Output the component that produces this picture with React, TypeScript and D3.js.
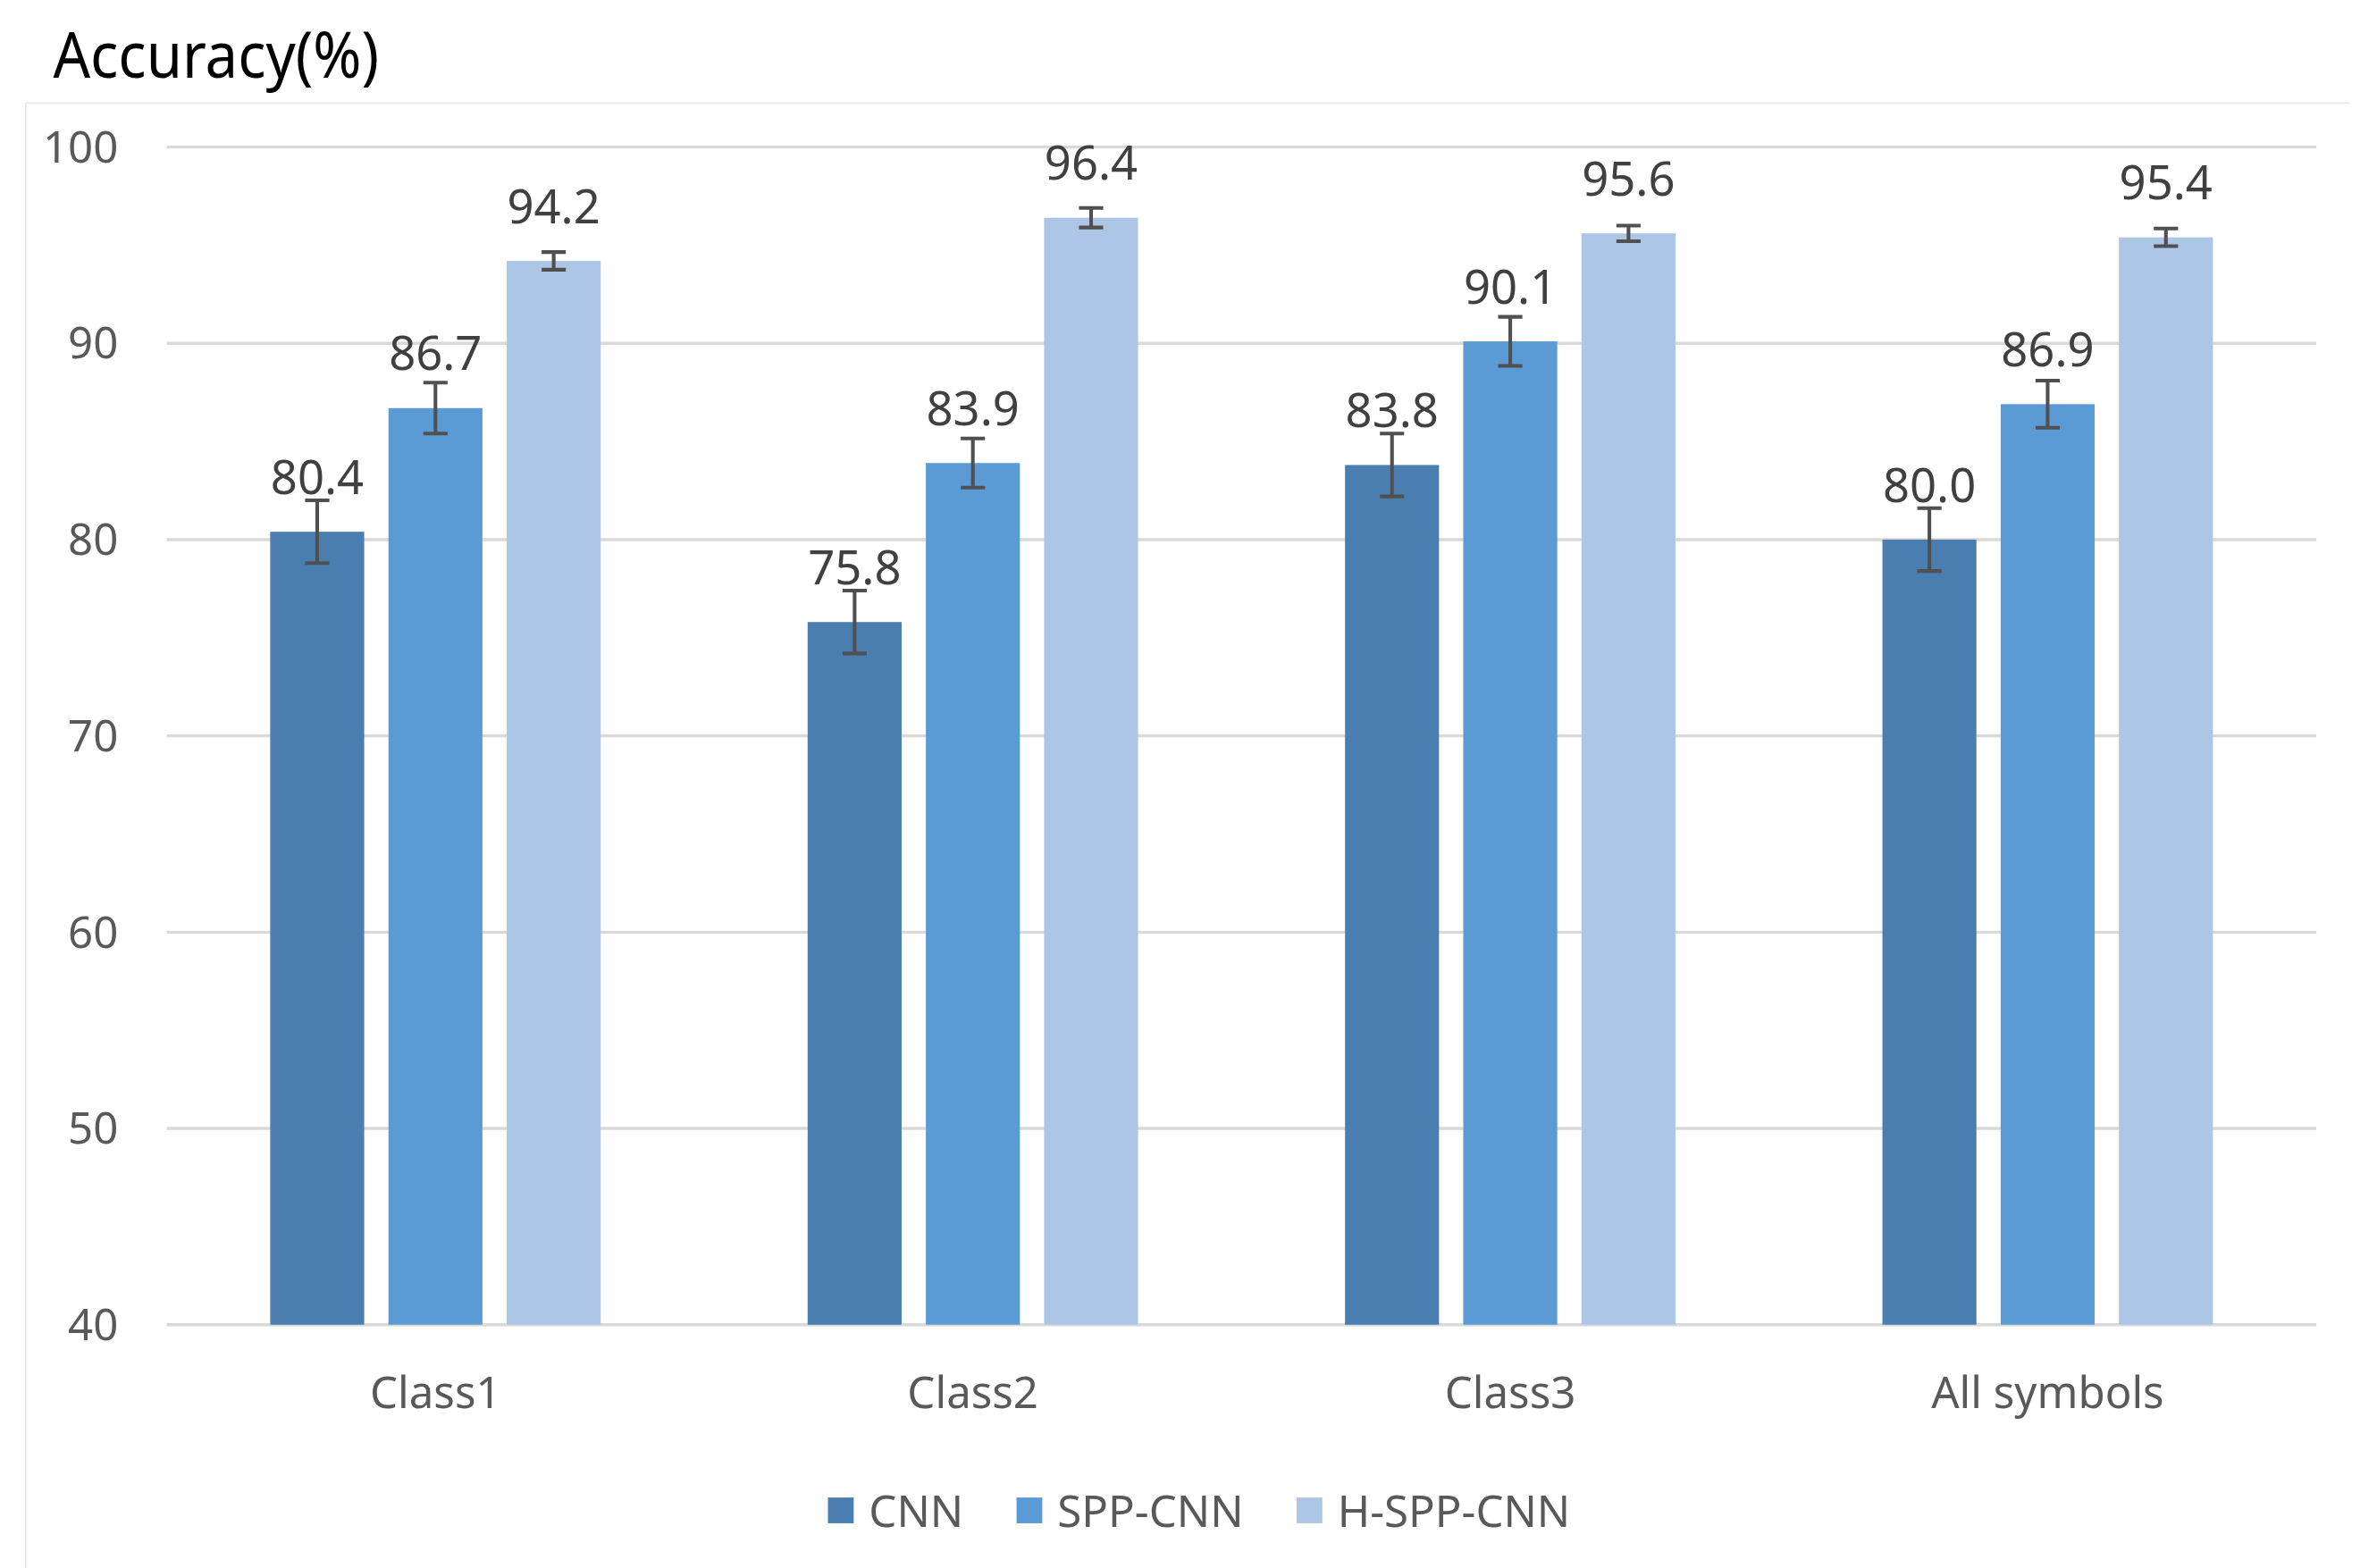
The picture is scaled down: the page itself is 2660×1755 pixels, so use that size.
import { useEffect, useRef } from 'react';
import * as d3 from 'd3';

// chart values
const categories = ['Class1', 'Class2', 'Class3', 'All symbols'];
const seriesNames = ['CNN', 'SPP-CNN', 'H-SPP-CNN'];
const cnnValues = [80.4, 75.8, 83.8, 80.0];
const sppValues = [86.7, 83.9, 90.1, 86.9];
const hsppValues = [94.2, 96.4, 95.6, 95.4];
const cnnErrors = [1.6, 1.6, 1.6, 1.6];
const sppErrors = [1.3, 1.25, 1.25, 1.2];
const hsppErrors = [0.45, 0.5, 0.4, 0.45];
const yTicks = [40, 50, 60, 70, 80, 90, 100];

const colors = ['#4a7eb0', '#5b9bd5', '#adc6e6'];

const App = () => {
  const ref = useRef<SVGSVGElement | null>(null);

  useEffect(() => {
    if (!ref.current) return;
    const svg = d3.select(ref.current);
    svg.selectAll('*').remove();

    // drawing units are a 1568 x 1034.5 view, scaled up to the page
    const W = 1568;
    const H = 1034.5;
    const margin = { top: 97, right: 40, bottom: 160.5, left: 110 };
    const font = "'Noto Sans', sans-serif";
    const textColor = '#595959';

    svg.append('rect').attr('width', W).attr('height', H).attr('fill', '#fff');

    // chart area border (faint)
    svg.append('path')
      .attr('d', `M17,${H + 2}V68H1550`)
      .attr('fill', 'none')
      .attr('stroke', '#e8e8e8')
      .attr('stroke-width', 1);

    const x = d3.scaleBand<string>()
      .domain(categories)
      .range([margin.left, W - margin.right])
      .padding(0);

    const y = d3.scaleLinear()
      .domain([40, 100])
      .range([H - margin.bottom, margin.top]);

    // gridlines
    svg.append('g')
      .selectAll('line')
      .data(yTicks)
      .enter()
      .append('line')
      .attr('x1', margin.left)
      .attr('x2', W - margin.right)
      .attr('y1', d => y(d))
      .attr('y2', d => y(d))
      .attr('stroke', '#d9d9d9')
      .attr('stroke-width', 2);

    // y tick labels
    svg.append('g')
      .selectAll('text')
      .data(yTicks)
      .enter()
      .append('text')
      .attr('x', 78)
      .attr('y', d => y(d))
      .attr('dy', '0.35em')
      .attr('text-anchor', 'end')
      .attr('font-family', font)
      .attr('font-size', 29)
      .attr('fill', textColor)
      .text(d => d);

    // bars
    const barW = 62;
    const gap = 16;
    const x1 = d3.scaleBand<string>()
      .domain(seriesNames)
      .range([0, 3 * barW + 2 * gap])
      .paddingInner(gap / (barW + gap))
      .paddingOuter(0);
    const groupOffset = (x.bandwidth() - (3 * barW + 2 * gap)) / 2;

    const values = [cnnValues, sppValues, hsppValues];
    const errors = [cnnErrors, sppErrors, hsppErrors];

    const rows = categories.flatMap((c, ci) =>
      seriesNames.map((s, si) => ({
        cat: c,
        series: s,
        si,
        value: values[si][ci],
        err: errors[si][ci],
      }))
    );

    const cx = (d: { cat: string; series: string }) =>
      (x(d.cat) || 0) + groupOffset + (x1(d.series) || 0) + x1.bandwidth() / 2;

    svg.append('g')
      .selectAll('rect')
      .data(rows)
      .enter()
      .append('rect')
      .attr('x', d => cx(d) - x1.bandwidth() / 2)
      .attr('width', x1.bandwidth())
      .attr('y', d => y(d.value))
      .attr('height', d => y(40) - y(d.value))
      .attr('fill', d => colors[d.si]);

    // data labels sit above the bar end (error bars may cross them)
    svg.append('g')
      .selectAll('text')
      .data(rows)
      .enter()
      .append('text')
      .attr('x', d => cx(d))
      .attr('y', d => y(d.value) - 25)
      .attr('text-anchor', 'middle')
      .attr('font-family', font)
      .attr('font-size', 31)
      .attr('fill', '#404040')
      .text(d => d.value.toFixed(1));

    // error bars
    const eb = svg.append('g')
      .attr('stroke', '#505050')
      .attr('stroke-width', 2.4)
      .attr('fill', 'none');
    rows.forEach(d => {
      const top = y(d.value + d.err);
      const bot = y(d.value - d.err);
      const c = cx(d);
      eb.append('path')
        .attr('d', `M${c},${top}V${bot}M${c - 8},${top}H${c + 8}M${c - 8},${bot}H${c + 8}`);
    });

    // category labels
    svg.append('g')
      .selectAll('text')
      .data(categories)
      .enter()
      .append('text')
      .attr('x', d => (x(d) || 0) + x.bandwidth() / 2)
      .attr('y', H - margin.bottom + 55)
      .attr('text-anchor', 'middle')
      .attr('font-family', font)
      .attr('font-size', 29)
      .attr('fill', textColor)
      .text(d => d);

    // title (narrow face in the original, squeezed to its width)
    svg.append('text')
      .attr('x', 35)
      .attr('y', 51)
      .attr('font-family', font)
      .attr('font-size', 42)
      .attr('textLength', 215)
      .attr('lengthAdjust', 'spacingAndGlyphs')
      .attr('fill', '#000')
      .text('Accuracy(%)');

    // legend, centred under the plot
    const legend = svg.append('g');
    let lx = 0;
    seriesNames.forEach((s, i) => {
      const item = legend.append('g').attr('transform', `translate(${lx},0)`);
      item.append('rect')
        .attr('x', 0)
        .attr('y', -9)
        .attr('width', 17)
        .attr('height', 17)
        .attr('fill', colors[i]);
      const t = item.append('text')
        .attr('x', 27)
        .attr('y', 0)
        .attr('dy', '0.35em')
        .attr('font-family', font)
        .attr('font-size', 29)
        .attr('fill', textColor)
        .text(s);
      const tw = (t.node() as SVGTextElement).getComputedTextLength();
      lx += 27 + tw + 35;
    });
    const legendW = lx - 35;
    legend.attr('transform', `translate(${791 - legendW / 2},${997})`);

    return () => {
      svg.selectAll('*').remove();
    };
  }, []);

  return (
    <svg
      ref={ref}
      width={2660}
      height={1755}
      viewBox="0 0 1568 1034.5"
      style={{ position: 'absolute', left: 0, top: 0, display: 'block' }}
    />
  );
};

export default App;
